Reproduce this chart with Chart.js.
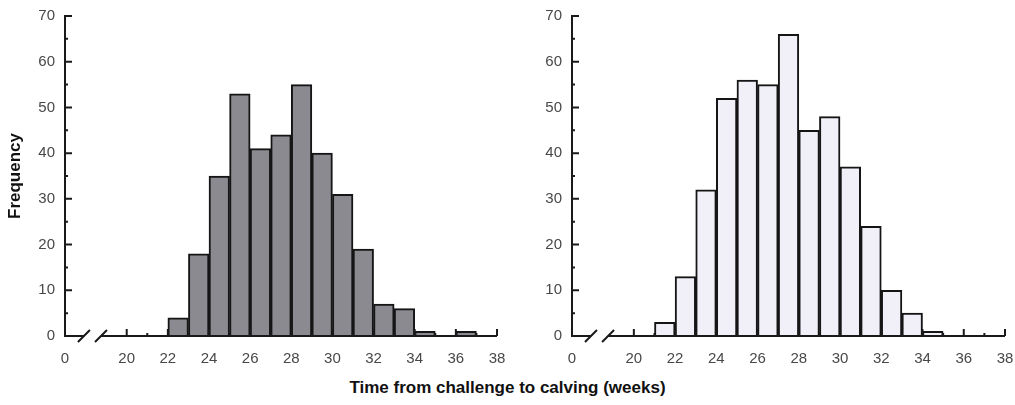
<!DOCTYPE html>
<html>
<head>
<meta charset="utf-8">
<script src="https://cdn.jsdelivr.net/npm/chart.js@4/dist/chart.umd.min.js"></script>
<style>
  html, body { margin: 0; padding: 0; background: #fff; }
  #wrap { position: relative; width: 1015px; height: 405px; overflow: hidden; }
  #left, #right { position: absolute; top: 0; }
  #left { left: 0; }
  #right { left: 507px; }
  #xtitle {
    position: absolute; left: 0; width: 1015px; top: 378px;
    text-align: center; font: bold 17px "Liberation Sans", Arial, sans-serif;
    color: #111; line-height: 20px;
  }
</style>
</head>
<body>
<div id="wrap">
  <canvas id="left" width="507" height="372"></canvas>
  <canvas id="right" width="508" height="372"></canvas>
  <div id="xtitle">Time from challenge to calving (weeks)</div>
</div>
<script>
// one-week bins, labelled by the week they start at
const weeks = [21, 22, 23, 24, 25, 26, 27, 28, 29, 30, 31, 32, 33, 34, 35, 36, 37];
const countsLeft  = [0, 4, 18, 35, 53, 41, 44, 55, 40, 31, 19, 7, 6, 1, 0, 1, 0];
const countsRight = [3, 13, 32, 52, 56, 55, 66, 45, 48, 37, 24, 10, 5, 1, 0, 0, 0];

// axis ticks; the origin sits at 17 on the scale and reads "0"
const xTickValues = [17, 20, 21, 22, 23, 24, 25, 26, 27, 28, 29, 30, 31, 32, 33, 34, 35, 36, 37, 38];
const yTickValues = [0, 10, 20, 30, 40, 50, 60, 70];
const axisBreak = [17.92, 18.75];

const FONT = '"Liberation Sans", Arial, sans-serif';

// axes are drawn by hand: inward ticks and a broken x axis
const brokenAxes = {
  id: 'brokenAxes',
  afterDatasetsDraw(chart) {
    const { ctx, chartArea: a, scales: { x, y } } = chart;
    ctx.save();
    ctx.strokeStyle = '#1a1a1a';
    ctx.lineWidth = 2;
    ctx.beginPath();
    ctx.moveTo(a.left, a.bottom + 1);
    ctx.lineTo(a.left, a.top - 1);
    for (let v = 0; v <= 70; v += 5) {
      const py = y.getPixelForValue(v);
      ctx.moveTo(a.left, py);
      ctx.lineTo(a.left + (v % 10 === 0 ? 7 : 3), py);
    }
    const b1 = x.getPixelForValue(axisBreak[0]);
    const b2 = x.getPixelForValue(axisBreak[1]);
    ctx.moveTo(a.left - 1, a.bottom);
    ctx.lineTo(b1, a.bottom);
    ctx.moveTo(b2, a.bottom);
    ctx.lineTo(a.right, a.bottom);
    for (const bx of [b1, b2]) {
      ctx.moveTo(bx - 6, a.bottom + 6);
      ctx.lineTo(bx + 6, a.bottom - 6);
    }
    for (let w = 20; w <= 38; w++) {
      const px = x.getPixelForValue(w);
      ctx.moveTo(px, a.bottom);
      ctx.lineTo(px, a.bottom - (w % 2 === 0 ? 7 : 3));
    }
    ctx.stroke();
    ctx.restore();
  }
};

function histogram(canvasId, counts, fill, showTitle) {
  const points = weeks
    .map((w, i) => ({ x: w + 0.5, y: counts[i] }))
    .filter(p => p.y > 0);

  return new Chart(document.getElementById(canvasId), {
    type: 'bar',
    data: {
      datasets: [{
        data: points,
        backgroundColor: fill,
        borderColor: '#151515',
        borderWidth: 2,
        barPercentage: 1,
        categoryPercentage: 1
      }]
    },
    options: {
      responsive: false,
      animation: false,
      layout: { padding: { top: 16, right: 10, bottom: 0, left: 0 } },
      plugins: { legend: { display: false }, tooltip: { enabled: false } },
      scales: {
        x: {
          type: 'linear',
          min: 17,
          max: 38,
          offset: false,
          grid: { display: false, drawTicks: false, offset: false },
          border: { display: false },
          afterBuildTicks: s => { s.ticks = xTickValues.map(v => ({ value: v })); },
          afterFit: s => { s.height = 36; s.paddingLeft = 0; s.paddingRight = 0; },
          ticks: {
            autoSkip: false,
            maxRotation: 0,
            padding: 14,
            color: '#484848',
            font: { family: FONT, size: 15 },
            callback: v => (v === 17 ? '0' : (v % 2 === 0 ? String(v) : ''))
          }
        },
        y: {
          min: 0,
          max: 70,
          grid: { display: false, drawTicks: false },
          border: { display: false },
          afterBuildTicks: s => { s.ticks = yTickValues.map(v => ({ value: v })); },
          afterFit: s => { s.width = 65; s.paddingTop = 0; s.paddingBottom = 0; },
          ticks: {
            padding: 10,
            color: '#484848',
            font: { family: FONT, size: 15 }
          },
          title: {
            display: showTitle,
            text: 'Frequency',
            color: '#111',
            font: { family: FONT, size: 17, weight: 'bold' },
            padding: { top: 5, bottom: 0 }
          }
        }
      }
    },
    plugins: [brokenAxes]
  });
}

histogram('left', countsLeft, '#8c8a91', true);
histogram('right', countsRight, '#f1eff8', false);
</script>
</body>
</html>
